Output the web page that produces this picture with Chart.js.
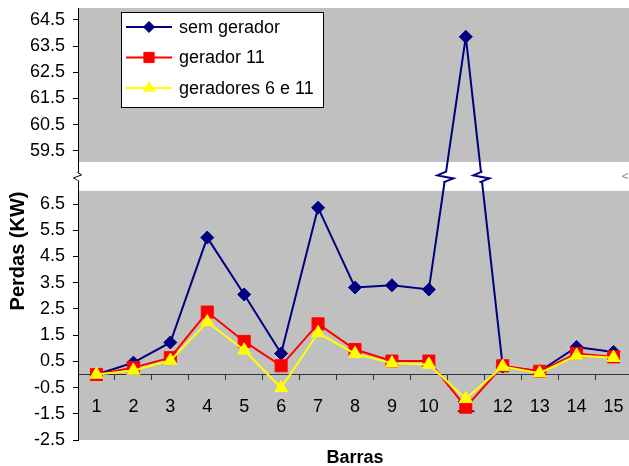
<!doctype html>
<html lang="pt">
  <head>
    <meta charset="UTF-8" />
    <title>Perdas por barra</title>
    <script src="https://cdn.jsdelivr.net/npm/chart.js@4.4.1/dist/chart.umd.min.js"></script>
    <style>
      html,
      body {
        margin: 0;
        padding: 0;
        background: #fff;
        overflow: hidden;
      }
    </style>
  </head>
  <body>
    <!-- the plot runs a few pixels past the right edge, as in the original -->
    <canvas id="chart" width="632" height="466"></canvas>
    <script>
      // Data
      const barras = ["1", "2", "3", "4", "5", "6", "7", "8", "9", "10", "11", "12", "13", "14", "15"];
      const semGerador = [0.0, 0.45, 1.22, 5.22, 3.05, 0.8, 6.36, 3.32, 3.4, 3.24, 63.85, 0.3, 0.12, 1.05, 0.86];
      const gerador11 = [0.0, 0.26, 0.64, 2.38, 1.26, 0.33, 1.93, 0.95, 0.51, 0.51, -1.25, 0.33, 0.12, 0.8, 0.67];
      const geradores6e11 = [0.0, 0.15, 0.53, 2.0, 0.92, -0.51, 1.58, 0.79, 0.43, 0.38, -0.93, 0.3, 0.05, 0.72, 0.64];
      const yTicksLower = [-2.5, -1.5, -0.5, 0.5, 1.5, 2.5, 3.5, 4.5, 5.5, 6.5];
      const yTicksUpper = [59.5, 60.5, 61.5, 62.5, 63.5, 64.5];

      // broken value axis: lower band, a small gap, upper band
      const yMin = -2.5;
      const lowMax = 7.0;
      const highMin = 59.08;
      const yMax = 64.95;
      const gapPx = 29;

      const FONT = '"Liberation Sans", Arial, sans-serif';
      Chart.defaults.font.family = FONT;
      Chart.defaults.color = "#000";

      class BrokenScale extends Chart.LinearScale {
        static id = "broken";
        static defaults = {};
        determineDataLimits() {
          this.min = yMin;
          this.max = yMax;
        }
        buildTicks() {
          return yTicksLower.concat(yTicksUpper).map((v) => ({ value: v }));
        }
        _k() {
          const span = lowMax - this.min + (this.max - highMin);
          return (this.bottom - this.top - gapPx) / span;
        }
        getPixelForValue(v) {
          const k = this._k();
          const lowTop = this.bottom - (lowMax - this.min) * k;
          if (v <= lowMax) return this.bottom - (v - this.min) * k;
          if (v >= highMin) return lowTop - gapPx - (v - highMin) * k;
          return lowTop - ((v - lowMax) / (highMin - lowMax)) * gapPx;
        }
        getValueForPixel(p) {
          const k = this._k();
          const lowTop = this.bottom - (lowMax - this.min) * k;
          if (p >= lowTop) return this.min + (this.bottom - p) / k;
          if (p <= lowTop - gapPx) return highMin + (lowTop - gapPx - p) / k;
          return lowMax + ((lowTop - p) / gapPx) * (highMin - lowMax);
        }
      }
      Chart.register(BrokenScale);

      const decor = {
        id: "decor",
        beforeDraw(chart) {
          const { ctx, chartArea: a, scales } = chart;
          const y = scales.y;
          ctx.save();
          ctx.fillStyle = "#C0C0C0";
          ctx.fillRect(a.left, a.top, a.right - a.left, a.bottom - a.top);
          const gTop = y.getPixelForValue(highMin);
          const gBot = y.getPixelForValue(lowMax);
          ctx.fillStyle = "#fff";
          ctx.fillRect(a.left, gTop, a.right - a.left, gBot - gTop);
          ctx.restore();
        },
        afterDatasetsDraw(chart) {
          const { ctx, chartArea: a, scales } = chart;
          const y = scales.y;
          const yc = (y.getPixelForValue(highMin) + y.getPixelForValue(lowMax)) / 2;
          ctx.save();

          // break marks on the value axis
          const ax = Math.round(y.right) - 0.5;
          ctx.fillStyle = "#fff";
          ctx.fillRect(ax - 2, yc - 4, 4, 8);
          ctx.strokeStyle = "#000";
          ctx.lineWidth = 1;
          ctx.beginPath();
          ctx.moveTo(ax, yc - 4);
          ctx.lineTo(ax + 4, yc - 1.5);
          ctx.lineTo(ax - 4, yc + 1.5);
          ctx.lineTo(ax, yc + 4);
          ctx.stroke();

          // small mark on the right border
          ctx.strokeStyle = "#808080";
          ctx.beginPath();
          ctx.moveTo(a.right - 4, yc - 3);
          ctx.lineTo(a.right - 10, yc);
          ctx.lineTo(a.right - 4, yc + 2);
          ctx.stroke();

          // break marks where the "sem gerador" line crosses the gap
          const pts = chart.getDatasetMeta(0).data;
          ctx.strokeStyle = chart.data.datasets[0].borderColor;
          ctx.lineWidth = 2;
          for (let i = 0; i < pts.length - 1; i++) {
            const p0 = pts[i];
            const p1 = pts[i + 1];
            if ((p0.y - yc) * (p1.y - yc) < 0) {
              const x = p0.x + ((yc - p0.y) * (p1.x - p0.x)) / (p1.y - p0.y);
              ctx.fillStyle = "#fff";
              ctx.fillRect(x - 4, yc - 4, 8, 9);
              ctx.beginPath();
              ctx.moveTo(x + 1, yc - 5);
              ctx.lineTo(x - 8, yc - 1);
              ctx.lineTo(x + 8, yc + 2);
              ctx.lineTo(x - 2, yc + 6);
              ctx.stroke();
            }
          }

          // legend box
          const lx = a.left + 43;
          const ly = a.top + 4;
          ctx.fillStyle = "#fff";
          ctx.fillRect(lx, ly, 203, 96);
          ctx.strokeStyle = "#000";
          ctx.lineWidth = 1;
          ctx.strokeRect(lx + 0.5, ly + 0.5, 202, 95);
          chart.data.datasets.forEach((ds, i) => {
            const cy = ly + 15 + i * 30.5;
            ctx.strokeStyle = ds.borderColor;
            ctx.lineWidth = 2;
            ctx.beginPath();
            ctx.moveTo(lx + 5, cy);
            ctx.lineTo(lx + 51, cy);
            ctx.stroke();
            ctx.fillStyle = ds.backgroundColor;
            ctx.lineWidth = 1;
            Chart.helpers.drawPoint(
              ctx,
              { pointStyle: ds.pointStyle, radius: ds.pointRadius * 0.85, rotation: 0, borderWidth: 1 },
              lx + 28,
              cy
            );
            ctx.fillStyle = "#000";
            ctx.font = "18px " + FONT;
            ctx.textAlign = "left";
            ctx.textBaseline = "middle";
            ctx.fillText(ds.label, lx + 58, cy + 1);
          });

          // axis titles
          ctx.fillStyle = "#000";
          ctx.font = "bold 18px " + FONT;
          ctx.textAlign = "center";
          ctx.textBaseline = "alphabetic";
          ctx.fillText("Barras", (a.left + a.right) / 2, a.bottom + 23);
          ctx.translate(18, a.bottom - 189);
          ctx.rotate(-Math.PI / 2);
          ctx.font = "bold 20px " + FONT;
          ctx.textBaseline = "middle";
          ctx.fillText("Perdas (KW)", 0, 0);
          ctx.restore();
        },
      };

      new Chart(document.getElementById("chart"), {
        type: "line",
        data: {
          labels: barras,
          datasets: [
            {
              label: "sem gerador",
              data: semGerador,
              borderColor: "#000080",
              backgroundColor: "#000080",
              borderWidth: 2,
              pointStyle: "rectRot",
              pointRadius: 6.5,
              pointBorderWidth: 1,
              order: 3,
            },
            {
              label: "gerador 11",
              data: gerador11,
              borderColor: "#FF0000",
              backgroundColor: "#FF0000",
              borderWidth: 2,
              pointStyle: "rect",
              pointRadius: 8.5,
              pointBorderWidth: 1,
              order: 2,
            },
            {
              label: "geradores 6 e 11",
              data: geradores6e11,
              borderColor: "#FFFF00",
              backgroundColor: "#FFFF00",
              borderWidth: 2,
              pointStyle: "triangle",
              pointRadius: 7.5,
              pointBorderWidth: 1,
              order: 1,
            },
          ],
        },
        options: {
          responsive: false,
          devicePixelRatio: 1,
          animation: false,
          layout: { autoPadding: false, padding: { top: 8, bottom: 26, left: 0, right: 0 } },
          plugins: {
            legend: { display: false },
            tooltip: { enabled: false },
          },
          scales: {
            x: {
              type: "category",
              offset: true,
              position: { y: 0 },
              grid: {
                drawOnChartArea: false,
                drawTicks: true,
                tickLength: 5,
                offset: true,
                color: "#333",
              },
              border: { display: true, color: "#333", width: 1 },
              ticks: { font: { size: 18 }, padding: 17, autoSkip: false, maxRotation: 0 },
              afterFit: (s) => {
                s.paddingLeft = 0;
                s.paddingRight = 0;
              },
            },
            y: {
              type: "broken",
              grid: { drawOnChartArea: false, drawTicks: true, tickLength: 5, color: "#000" },
              border: { display: true, color: "#000", width: 1 },
              ticks: {
                font: { size: 18 },
                padding: 8,
                autoSkip: false,
                callback: (v) => Number(v).toFixed(1),
              },
              afterFit: (s) => {
                s.width = 78;
                s.paddingTop = 0;
                s.paddingBottom = 0;
              },
            },
          },
        },
        plugins: [decor],
      });
    </script>
  </body>
</html>
